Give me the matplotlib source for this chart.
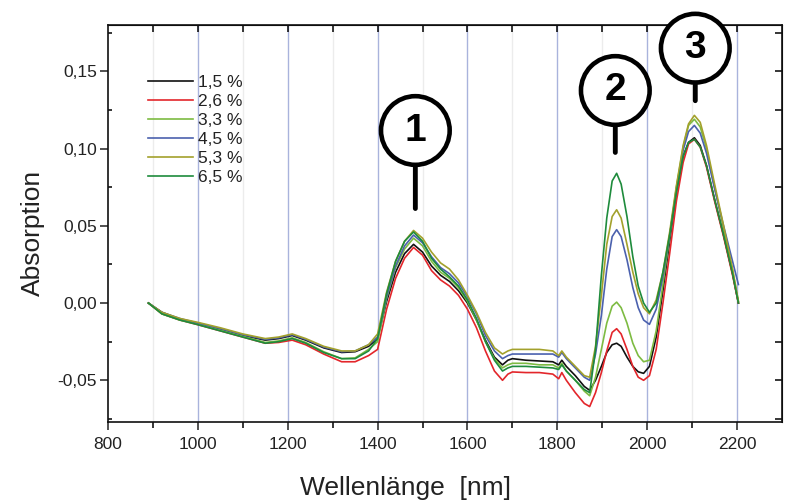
import numpy as np
import matplotlib
matplotlib.use("Agg")
import matplotlib.pyplot as plt
from matplotlib.ticker import FixedLocator, FuncFormatter

plt.rcParams["font.family"] = ["Liberation Sans", "DejaVu Sans"]

# wavelength grid (nm)
wavelength = [890, 920, 960, 1000, 1050, 1100, 1150, 1180, 1210, 1240, 1280, 1320, 1350, 1380,
              1400, 1420, 1440, 1460, 1480, 1500, 1520, 1540, 1560, 1580, 1600, 1620, 1640, 1660,
              1678, 1690, 1700, 1730, 1760, 1790, 1803, 1810, 1820, 1840, 1860,
              1872, 1885, 1898, 1910, 1922, 1932, 1942, 1955, 1968, 1980, 1992,
              2005, 2020, 2035, 2050, 2065, 2080, 2092, 2105, 2118, 2132, 2150, 2170, 2190, 2203]

abs_1_5 = [0.000, -0.006, -0.0105, -0.013, -0.017, -0.021, -0.024, -0.023, -0.021, -0.024, -0.029, -0.032, -0.0315, -0.028,
           -0.023, 0.001, 0.020, 0.032, 0.038, 0.033, 0.024, 0.018, 0.014, 0.008, 0.000, -0.011, -0.024, -0.035,
           -0.040, -0.037, -0.036, -0.037, -0.0375, -0.038, -0.040, -0.037, -0.041, -0.047, -0.054,
           -0.0565, -0.050, -0.041, -0.032, -0.027, -0.026, -0.028, -0.035, -0.041, -0.0445, -0.0455,
           -0.041, -0.022, 0.008, 0.040, 0.072, 0.095, 0.104, 0.107, 0.102, 0.089, 0.067, 0.044, 0.019, 0.000]

abs_2_6 = [0.000, -0.007, -0.011, -0.014, -0.018, -0.022, -0.026, -0.0255, -0.024, -0.027, -0.033, -0.038, -0.038, -0.034,
           -0.030, -0.004, 0.016, 0.029, 0.036, 0.031, 0.021, 0.015, 0.011, 0.005, -0.004, -0.016, -0.031, -0.044,
           -0.050, -0.046, -0.0446, -0.045, -0.045, -0.046, -0.049, -0.045, -0.050, -0.058, -0.065,
           -0.067, -0.058, -0.045, -0.031, -0.019, -0.0166, -0.020, -0.030, -0.041, -0.048, -0.050,
           -0.047, -0.030, 0.000, 0.032, 0.066, 0.091, 0.103, 0.106, 0.101, 0.088, 0.066, 0.043, 0.018, 0.000]

abs_3_3 = [0.000, -0.007, -0.011, -0.0135, -0.0175, -0.0215, -0.0255, -0.0245, -0.0225, -0.0255, -0.0315, -0.036, -0.0355, -0.030,
           -0.025, 0.003, 0.023, 0.035, 0.042, 0.037, 0.027, 0.020, 0.016, 0.010, 0.001, -0.011, -0.025, -0.036,
           -0.042, -0.040, -0.039, -0.039, -0.040, -0.040, -0.042, -0.039, -0.044, -0.050, -0.057,
           -0.060, -0.048, -0.030, -0.013, -0.002, 0.0006, -0.003, -0.013, -0.026, -0.034, -0.038,
           -0.037, -0.018, 0.012, 0.043, 0.075, 0.101, 0.115, 0.119, 0.114, 0.100, 0.075, 0.048, 0.021, 0.001]

abs_4_5 = [0.000, -0.006, -0.010, -0.013, -0.0165, -0.0205, -0.0235, -0.0225, -0.0205, -0.0235, -0.0285, -0.0315, -0.031, -0.027,
           -0.022, 0.004, 0.024, 0.037, 0.044, 0.039, 0.030, 0.023, 0.019, 0.013, 0.004, -0.007, -0.021, -0.031,
           -0.036, -0.034, -0.033, -0.033, -0.033, -0.033, -0.035, -0.032, -0.036, -0.042, -0.048,
           -0.050, -0.033, -0.008, 0.022, 0.043, 0.0475, 0.043, 0.028, 0.010, -0.003, -0.011,
           -0.0138, -0.004, 0.017, 0.044, 0.074, 0.099, 0.111, 0.115, 0.110, 0.097, 0.074, 0.050, 0.027, 0.012]

abs_5_3 = [0.000, -0.006, -0.010, -0.0125, -0.016, -0.020, -0.023, -0.022, -0.020, -0.023, -0.028, -0.031, -0.031, -0.027,
           -0.020, 0.007, 0.027, 0.040, 0.047, 0.042, 0.033, 0.026, 0.022, 0.015, 0.005, -0.006, -0.019, -0.029,
           -0.033, -0.031, -0.030, -0.030, -0.030, -0.031, -0.034, -0.031, -0.035, -0.041, -0.047,
           -0.048, -0.028, 0.005, 0.038, 0.056, 0.0604, 0.055, 0.038, 0.020, 0.006, -0.003,
           -0.007, 0.002, 0.020, 0.046, 0.076, 0.102, 0.116, 0.1215, 0.117, 0.102, 0.077, 0.050, 0.022, 0.001]

abs_6_5 = [0.000, -0.007, -0.011, -0.014, -0.018, -0.022, -0.026, -0.025, -0.023, -0.026, -0.032, -0.036, -0.036, -0.031,
           -0.023, 0.006, 0.027, 0.040, 0.046, 0.040, 0.029, 0.022, 0.017, 0.011, 0.002, -0.010, -0.025, -0.037,
           -0.044, -0.042, -0.041, -0.041, -0.0415, -0.042, -0.043, -0.040, -0.044, -0.050, -0.056,
           -0.058, -0.030, 0.018, 0.055, 0.079, 0.084, 0.077, 0.056, 0.030, 0.011, 0.000,
           -0.006, 0.000, 0.020, 0.044, 0.072, 0.095, 0.104, 0.106, 0.101, 0.089, 0.067, 0.044, 0.019, 0.000]

labels = ["1,5 %", "2,6 %", "3,3 %", "4,5 %", "5,3 %", "6,5 %"]
colors = ["#111111", "#e3262b", "#7dbb42", "#4b61ae", "#a3a12c", "#1e8b3c"]
series = [abs_1_5, abs_2_6, abs_3_3, abs_4_5, abs_5_3, abs_6_5]

# marked bands: label, wavelength, circle height, stub end
band_labels = ["1", "2", "3"]
band_nm = [1484, 1929, 2107]
band_circle_y = [0.1117, 0.1376, 0.1650]
band_stub_y = [0.0612, 0.0975, 0.131]

fig = plt.figure(figsize=(7.85, 5.01), dpi=100)
ax = fig.add_axes([108 / 785, 1 - 422 / 501, 674 / 785, 397 / 501])

# vertical grid
for x in range(900, 2300, 100):
    if x % 200 == 0:
        ax.axvline(x, color="#a9b3dc", lw=1.0, zorder=0)
    else:
        ax.axvline(x, color="#ececec", lw=1.0, zorder=0)

for vals, lab, col in zip(series, labels, colors):
    ax.plot(wavelength, vals, color=col, lw=1.2, label=lab, zorder=2)

ax.set_xlim(800, 2300)
ax.set_ylim(-0.077, 0.18)

ax.xaxis.set_major_locator(FixedLocator(list(range(800, 2201, 200))))
ax.xaxis.set_minor_locator(FixedLocator(list(range(900, 2300, 200))))
ax.yaxis.set_major_locator(FixedLocator([-0.05, 0.0, 0.05, 0.10, 0.15]))
ax.yaxis.set_minor_locator(FixedLocator([-0.075, -0.025, 0.025, 0.075, 0.125, 0.175]))
ax.yaxis.set_major_formatter(FuncFormatter(lambda v, p: f"{v:.2f}".replace(".", ",")))

ax.tick_params(axis="x", which="major", direction="out", length=6, width=1.1, labelsize=12.5, pad=5, colors="#222222")
ax.tick_params(axis="x", which="minor", direction="out", length=4, width=1.1)
ax.tick_params(axis="y", which="major", direction="out", length=6, width=1.1, labelsize=12.5, pad=2, colors="#222222")
ax.tick_params(axis="y", which="minor", direction="in", length=3, width=1.1)

for s in ax.spines.values():
    s.set_linewidth(1.2)
    s.set_color("#111111")

# inward ticks on top and right
top = ax.secondary_xaxis("top")
top.set_xticks(list(range(900, 2300, 100)))
top.tick_params(direction="in", length=5, width=1.1, labeltop=False)
right = ax.secondary_yaxis("right")
right.set_yticks([-0.075, -0.05, -0.025, 0.0, 0.025, 0.05, 0.075, 0.10, 0.125, 0.15, 0.175])
right.tick_params(direction="in", length=5, width=1.1, labelright=False)

fig.text(33 / 785, 1 - 233 / 501, "Absorption", rotation=90, fontsize=19,
         ha="center", va="center", color="#222222")
fig.text(406 / 785, 1 - 488 / 501, "Wellenlänge  [nm]", fontsize=19,
         ha="center", va="center", color="#222222")

leg = ax.legend(loc="upper left", bbox_to_anchor=(148 / 785, 1 - 75 / 501),
                bbox_transform=fig.transFigure, frameon=False, fontsize=12.5,
                handlelength=2.6, handletextpad=0.3, labelspacing=0.22,
                borderpad=0, borderaxespad=0)
for t in leg.get_texts():
    t.set_color("#222222")

for lab, nm, cy, sy in zip(band_labels, band_nm, band_circle_y, band_stub_y):
    ax.annotate(lab, xy=(nm, sy), xytext=(nm, cy), ha="center", va="center",
                fontsize=28, fontweight="bold", color="black",
                bbox=dict(boxstyle="circle,pad=0.42", fc="white", ec="black", lw=3.3),
                arrowprops=dict(arrowstyle="-", color="black", lw=3.5, shrinkA=0, shrinkB=0),
                zorder=5, annotation_clip=False)

fig.savefig("out.png", dpi=100)
